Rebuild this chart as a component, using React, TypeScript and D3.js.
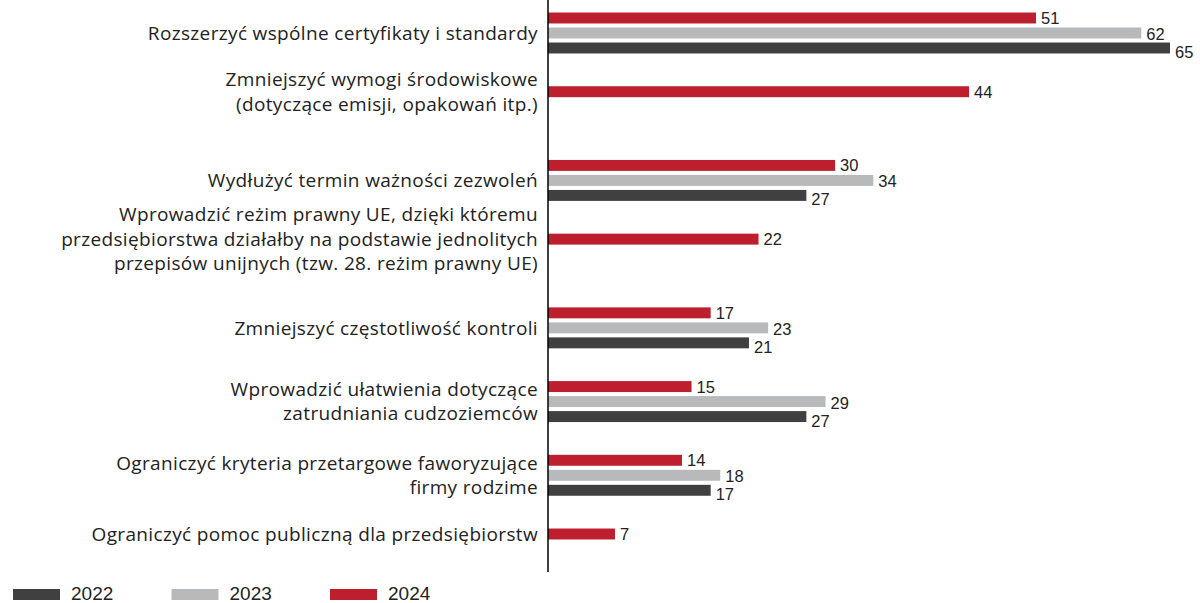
import * as d3 from "d3";

// category labels, split into the lines shown in the chart
const categories: string[][] = [
  ["Rozszerzyć wspólne certyfikaty i standardy"],
  ["Zmniejszyć wymogi środowiskowe", "(dotyczące emisji, opakowań itp.)"],
  ["Wydłużyć termin ważności zezwoleń"],
  [
    "Wprowadzić reżim prawny UE, dzięki któremu",
    "przedsiębiorstwa działałby na podstawie jednolitych",
    "przepisów unijnych (tzw. 28. reżim prawny UE)",
  ],
  ["Zmniejszyć częstotliwość kontroli"],
  ["Wprowadzić ułatwienia dotyczące", "zatrudniania cudzoziemców"],
  ["Ograniczyć kryteria przetargowe faworyzujące", "firmy rodzime"],
  ["Ograniczyć pomoc publiczną dla przedsiębiorstw"],
];

const years = ["2024", "2023", "2022"];
const values2024 = [51, 44, 30, 22, 17, 15, 14, 7];
const values2023: (number | null)[] = [62, null, 34, null, 23, 29, 18, null];
const values2022: (number | null)[] = [65, null, 27, null, 21, 27, 17, null];

const legendYears = ["2022", "2023", "2024"];

const colors: Record<string, string> = {
  "2024": "#bd1f2e",
  "2023": "#b8b9bb",
  "2022": "#404040",
};

const width = 1200;
const height = 603;
const axisX = 548;

export default function App() {
  const series: Record<string, (number | null)[]> = {
    "2024": values2024,
    "2023": values2023,
    "2022": values2022,
  };

  const x = d3.scaleLinear().domain([0, 65]).range([axisX, 1170]);

  // category centre (middle of a full three-bar group)
  const y = d3
    .scalePoint<number>()
    .domain(d3.range(categories.length))
    .range([33, 549]);

  // bars inside one group
  const inner = d3
    .scaleBand<string>()
    .domain(years)
    .range([-22.5, 22.5])
    .paddingInner(0.27)
    .paddingOuter(0.135);

  const labelDy: Record<string, number> = { "2024": 0, "2023": 1, "2022": 4 };

  const legendX = d3
    .scalePoint<string>()
    .domain(legendYears)
    .range([13, 330]);

  return (
    <svg
      width={width}
      height={height}
      style={{ position: "absolute", left: 0, top: 0, background: "#fff" }}
    >
      {categories.map((lines, i) => {
        const cy = y(i)!;
        const present = years.filter((k) => series[k][i] != null);
        const centers = present.map((k) => cy + inner(k)! + inner.bandwidth() / 2);
        const labelY = d3.mean(centers)!;
        const lh = 24.5;
        const top = labelY - ((lines.length - 1) * lh) / 2;
        return (
          <g key={i}>
            {present.map((k) => {
              const v = series[k][i]!;
              const by = cy + inner(k)!;
              return (
                <g key={k}>
                  <rect
                    x={x(0)}
                    y={by}
                    width={x(v) - x(0)}
                    height={inner.bandwidth()}
                    fill={colors[k]}
                  />
                  <text
                    x={x(v) + 5}
                    y={by + inner.bandwidth() / 2 + labelDy[k]}
                    dy="0.36em"
                    fontFamily="Liberation Sans, Arial, sans-serif"
                    fontSize={16.5}
                    fill="#222"
                  >
                    {v}
                  </text>
                </g>
              );
            })}
            <text
              textAnchor="end"
              fontFamily="'Open Sans', sans-serif"
              fontSize={19}
              letterSpacing={0.35}
              fill="#222"
            >
              {lines.map((l, j) => (
                <tspan key={j} x={538} y={top + j * lh} dy="0.35em">
                  {l}
                </tspan>
              ))}
            </text>
          </g>
        );
      })}

      <line x1={axisX} x2={axisX} y1={0} y2={572} stroke="#000" strokeWidth={1.5} />

      {legendYears.map((k) => (
        <g key={k} transform={`translate(${legendX(k)},0)`}>
          <rect x={0} y={589} width={47} height={11} fill={colors[k]} />
          <text
            x={58}
            y={600}
            fontFamily="Liberation Sans, Arial, sans-serif"
            fontSize={19}
            fill="#222"
          >
            {k}
          </text>
        </g>
      ))}
    </svg>
  );
}
